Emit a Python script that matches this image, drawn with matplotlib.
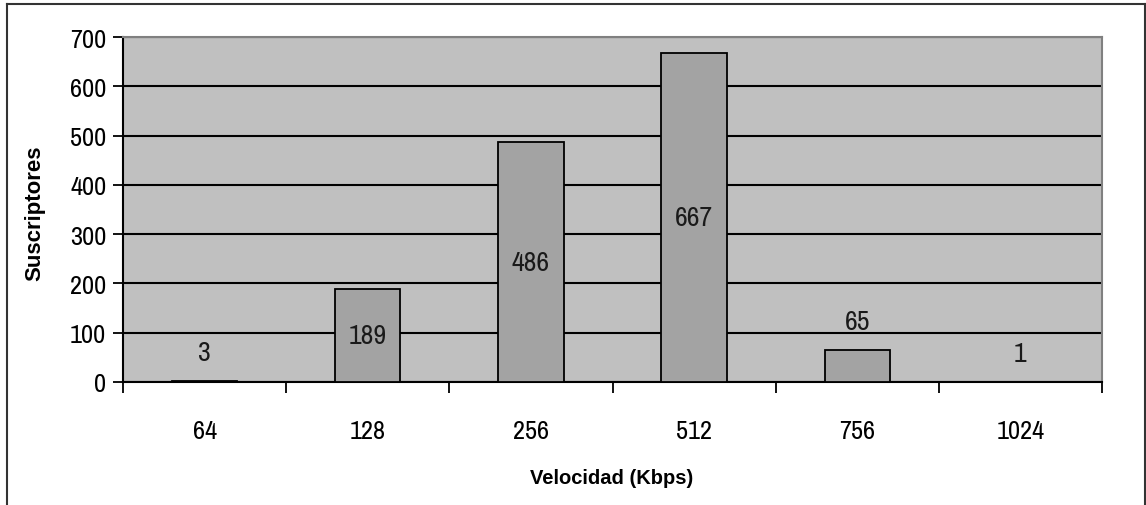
import matplotlib
matplotlib.use("Agg")
import matplotlib.pyplot as plt
from matplotlib.lines import Line2D
from matplotlib import font_manager

categories = ["64", "128", "256", "512", "756", "1024"]
values = [3, 189, 486, 667, 65, 1]
yticks = [0, 100, 200, 300, 400, 500, 600, 700]

names = {f.name for f in font_manager.fontManager.ttflist}
narrow = "DejaVu Sans"
for cand in ["Liberation Sans Narrow", "Arimo Narrow", "Archivo Narrow", "Roboto Condensed", "Barlow Condensed"]:
    if cand in names:
        narrow = cand
        break
plt.rcParams['font.family'] = [narrow, 'DejaVu Sans']

fig = plt.figure(figsize=(11.46, 5.06), dpi=100)
ax = fig.add_axes([123/1146, 1-383/506, (1102-123)/1146, (383-38)/506])
ax.set_facecolor("#C0C0C0")

x = list(range(len(categories)))
ax.set_axisbelow(True)
ax.yaxis.grid(True, color="black", linewidth=1.5)
ax.bar(x, values, width=0.4, color="#A3A3A3", edgecolor="black", linewidth=1.3, zorder=3)

for xi, v in zip(x, values):
    if v / 2 < 60:
        ax.text(xi, v + 57, str(v), ha="center", va="center", fontsize=20, color="#1a1a1a", zorder=4)
    else:
        ax.text(xi, v / 2, str(v), ha="center", va="center", fontsize=20, color="#1a1a1a", zorder=4)

ax.set_xlim(-0.5, len(categories) - 0.5)
ax.set_ylim(0, 700)
ax.set_yticks(yticks)
ax.set_yticklabels([str(t) for t in yticks], fontsize=19)
ax.set_xticks(x)
ax.set_xticklabels(categories, fontsize=19)
ax.set_xticks([i - 0.5 for i in range(len(categories) + 1)], minor=True)
ax.tick_params(axis="x", which="major", length=0, pad=27)
ax.tick_params(axis="x", which="minor", length=8, width=1.3, color="black", direction="out")
ax.tick_params(axis="y", length=7, width=1.3, color="black", direction="out", pad=5)

for s in ["left", "bottom"]:
    ax.spines[s].set_color("black")
    ax.spines[s].set_linewidth(1.5)
for s in ["top", "right"]:
    ax.spines[s].set_color("#808080")
    ax.spines[s].set_linewidth(1.5)

fig.text(612/1146, 1-479/506, "Velocidad (Kbps)", ha="center", va="center",
         fontsize=14.5, fontweight="bold", family=["Liberation Sans", "DejaVu Sans"])
fig.text(35/1146, 1-213/506, "Suscriptores", ha="center", va="center", rotation=90,
         fontsize=16, fontweight="bold", family=["Liberation Sans", "DejaVu Sans"])

# outer frame (top, left, right)
fig.add_artist(Line2D([7/1146, 1145/1146], [1-5/506, 1-5/506], color="#333333", linewidth=1.5, transform=fig.transFigure))
fig.add_artist(Line2D([7/1146, 7/1146], [0, 1-5/506], color="#333333", linewidth=1.5, transform=fig.transFigure))
fig.add_artist(Line2D([1145/1146, 1145/1146], [0, 1-5/506], color="#333333", linewidth=1.5, transform=fig.transFigure))

fig.savefig("out.png", dpi=100)
